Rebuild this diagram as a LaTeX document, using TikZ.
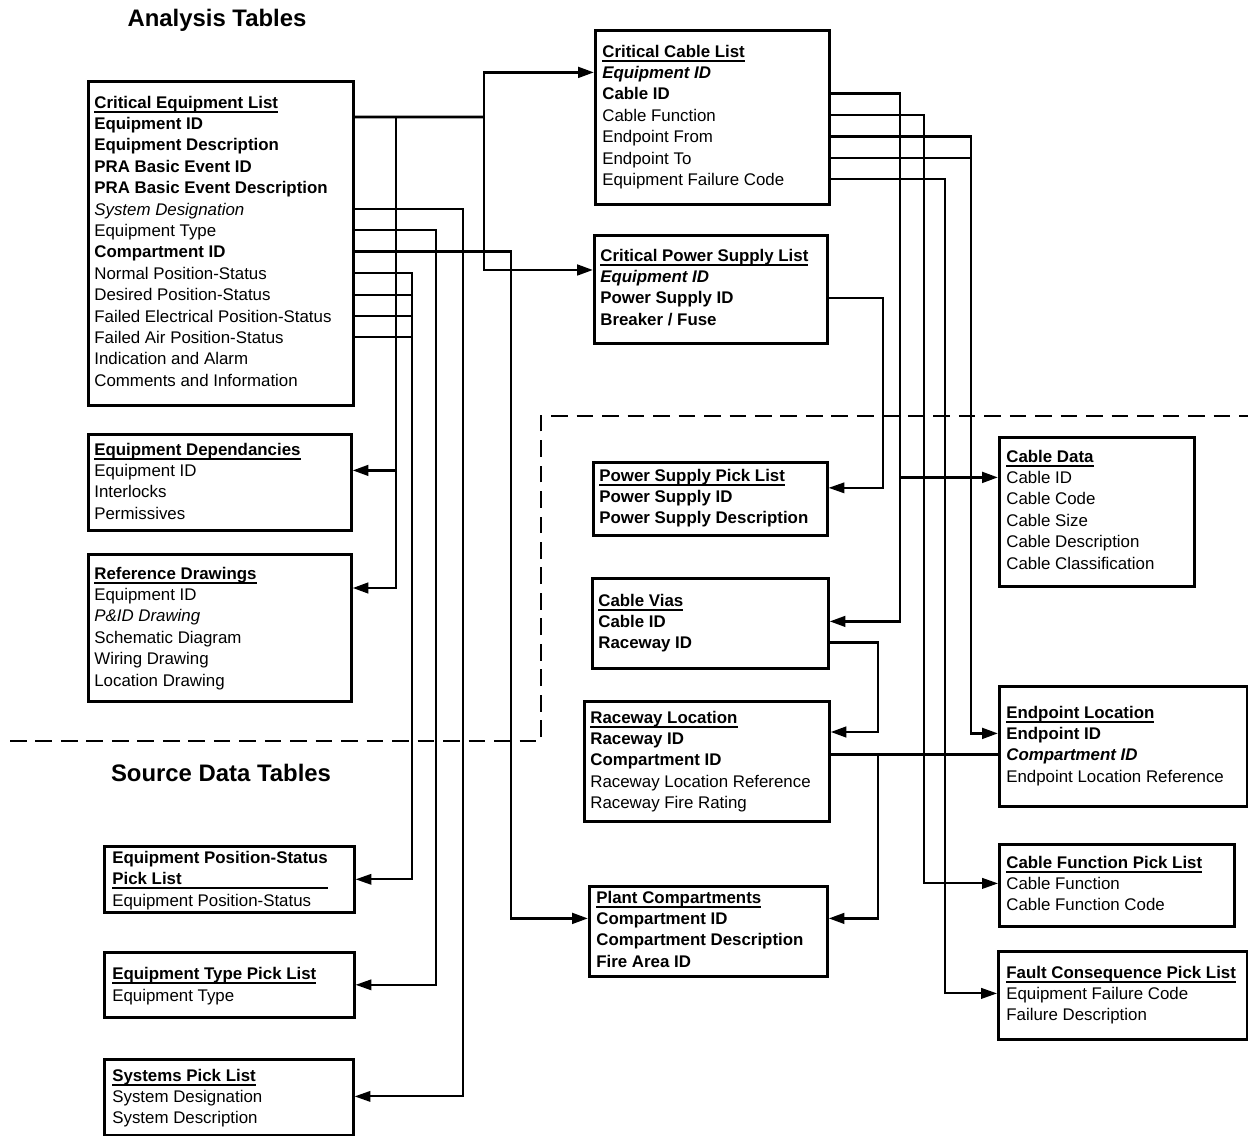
\documentclass[tikz,border=0pt]{standalone}
\usepackage{fontspec}
\setmainfont{Liberation Sans}
\usepackage{tikz}
\usetikzlibrary{arrows.meta, calc}

\newlength\pxu \setlength\pxu{0.02cm}
\newsavebox\ulbox
\newcommand\ul[1]{\sbox\ulbox{#1}\rlap{\rule[-2.7pt]{\wd\ulbox}{0.8pt}}\usebox\ulbox}
\newcommand\bld[1]{\textbf{#1}}
\newcommand\itl[1]{\textit{#1}}
\newcommand\bldit[1]{\textbf{\textit{#1}}}

\begin{document}
\begin{tikzpicture}[x=0.02cm, y=-0.02cm, >={Triangle[length=9pt,width=6pt]},
    font=\fontsize{9.6}{11.5}\selectfont,
    tbl/.style args={#1 by #2}{draw, line width=1.5pt, anchor=north west, inner sep=0pt,
        minimum width=#1\pxu, minimum height=#2\pxu},
    fld/.style={anchor=west, inner sep=0pt, text height=6.9pt, text depth=0pt},
    ttl/.style={fld, font=\fontsize{9.6}{11.5}\selectfont\bfseries},
    hdg/.style={font=\fontsize{13.6}{16}\selectfont\bfseries},
    thk/.style={line width=1.6pt},
    thn/.style={line width=1.1pt},
    divider/.style={line width=1.5pt, dash pattern=on 9.5pt off 5pt}]
    \useasboundingbox (0,0) rectangle (1248,1136);

    \node[hdg] (ana) at (217,20) {Analysis Tables};
    \node[hdg] (src) at (221,773) {Source Data Tables};
    \draw[divider] (10,741) -| (541,416) -- (1248,416);

    % analysis tables
    \node[tbl=265 by 324] (cel) at (87,80) {};
    \node[ttl] (cel0) at (94,102) {\ul{Critical Equipment List}};
    \foreach \txt [count=\i] in {\bld{Equipment ID}, \bld{Equipment Description},
        \bld{PRA Basic Event ID}, \bld{PRA Basic Event Description}, \itl{System Designation},
        Equipment Type, \bld{Compartment ID}, Normal Position-Status, Desired Position-Status,
        Failed Electrical Position-Status, Failed Air Position-Status, Indication and Alarm,
        Comments and Information}
        \node[fld] (cel\i) at (94,{102+21.4*\i}) {\txt};

    \node[tbl=234 by 174] (ccl) at (594,29) {};
    \node[ttl] (ccl0) at (602,51) {\ul{Critical Cable List}};
    \foreach \txt [count=\i] in {\bldit{Equipment ID}, \bld{Cable ID}, Cable Function,
        Endpoint From, Endpoint To, Equipment Failure Code}
        \node[fld] (ccl\i) at (602,{51+21.4*\i}) {\txt};

    \node[tbl=233 by 108] (cpsl) at (593,234) {};
    \node[ttl] (cpsl0) at (600,255) {\ul{Critical Power Supply List}};
    \foreach \txt [count=\i] in {\bldit{Equipment ID}, \bld{Power Supply ID}, \bld{Breaker / Fuse}}
        \node[fld] (cpsl\i) at (600,{255+21.4*\i}) {\txt};

    \node[tbl=263 by 96] (ed) at (87,433) {};
    \node[ttl] (ed0) at (94,449) {\ul{Equipment Dependancies}};
    \foreach \txt [count=\i] in {Equipment ID, Interlocks, Permissives}
        \node[fld] (ed\i) at (94,{449+21.4*\i}) {\txt};

    \node[tbl=263 by 147] (rd) at (87,553) {};
    \node[ttl] (rd0) at (94,573) {\ul{Reference Drawings}};
    \foreach \txt [count=\i] in {Equipment ID, \itl{P\&ID Drawing}, Schematic Diagram,
        Wiring Drawing, Location Drawing}
        \node[fld] (rd\i) at (94,{573+21.4*\i}) {\txt};

    % source data tables
    \node[tbl=234 by 73] (pspl) at (592,461) {};
    \node[ttl] (pspl0) at (599,475) {\ul{Power Supply Pick List}};
    \foreach \txt [count=\i] in {\bld{Power Supply ID}, \bld{Power Supply Description}}
        \node[fld] (pspl\i) at (599,{475+21.4*\i}) {\txt};

    \node[tbl=236 by 90] (cv) at (591,577) {};
    \node[ttl] (cv0) at (598,600) {\ul{Cable Vias}};
    \foreach \txt [count=\i] in {\bld{Cable ID}, \bld{Raceway ID}}
        \node[fld] (cv\i) at (598,{600+21.4*\i}) {\txt};

    \node[tbl=245 by 120] (rl) at (583,700) {};
    \node[ttl] (rl0) at (590,717) {\ul{Raceway Location}};
    \foreach \txt [count=\i] in {\bld{Raceway ID}, \bld{Compartment ID},
        Raceway Location Reference, Raceway Fire Rating}
        \node[fld] (rl\i) at (590,{717+21.4*\i}) {\txt};

    \node[tbl=238 by 90] (pc) at (588,885) {};
    \node[ttl] (pc0) at (596,897) {\ul{Plant Compartments}};
    \foreach \txt [count=\i] in {\bld{Compartment ID}, \bld{Compartment Description}, \bld{Fire Area ID}}
        \node[fld] (pc\i) at (596,{897+21.4*\i}) {\txt};

    \node[tbl=195 by 149] (cd) at (998,436) {};
    \node[ttl] (cd0) at (1006,456) {\ul{Cable Data}};
    \foreach \txt [count=\i] in {Cable ID, Cable Code, Cable Size, Cable Description,
        Cable Classification}
        \node[fld] (cd\i) at (1006,{456+21.4*\i}) {\txt};

    \node[tbl=248 by 120] (el) at (998,685) {};
    \node[ttl] (el0) at (1006,712) {\ul{Endpoint Location}};
    \foreach \txt [count=\i] in {\bld{Endpoint ID}, \bldit{Compartment ID}, Endpoint Location Reference}
        \node[fld] (el\i) at (1006,{712+21.4*\i}) {\txt};

    \node[tbl=235 by 82] (cfpl) at (998,843) {};
    \node[ttl] (cfpl0) at (1006,862) {\ul{Cable Function Pick List}};
    \foreach \txt [count=\i] in {Cable Function, Cable Function Code}
        \node[fld] (cfpl\i) at (1006,{862+21.4*\i}) {\txt};

    \node[tbl=249 by 88] (fcpl) at (997,950) {};
    \node[ttl] (fcpl0) at (1006,972) {\ul{Fault Consequence Pick List}};
    \foreach \txt [count=\i] in {Equipment Failure Code, Failure Description}
        \node[fld] (fcpl\i) at (1006,{972+21.4*\i}) {\txt};

    \node[tbl=250 by 66] (epspl) at (103,845) {};
    \node[ttl] (epspl0) at (112,857) {Equipment Position-Status};
    \node[ttl] (epspl00) at (112,878) {\ul{\rlap{Pick List}\phantom{Equipment Position-Status}}};
    \node[fld] (epspl1) at (112,900) {Equipment Position-Status};

    \node[tbl=250 by 65] (etpl) at (103,951) {};
    \node[ttl] (etpl0) at (112,973) {\ul{Equipment Type Pick List}};
    \node[fld] (etpl1) at (112,995) {Equipment Type};

    \node[tbl=249 by 76] (spl) at (103,1058) {};
    \node[ttl] (spl0) at (112,1075) {\ul{Systems Pick List}};
    \foreach \txt [count=\i] in {System Designation, System Description}
        \node[fld] (spl\i) at (112,{1075+21.4*\i}) {\txt};

    % buses
    \coordinate (eqbus) at (484,117);
    \coordinate (depbus) at (396,117);
    \coordinate (psbus) at (412,0);
    \coordinate (typbus) at (436,0);
    \coordinate (sysbus) at (463,0);
    \coordinate (cmpbus) at (511,0);
    \coordinate (supbus) at (883,0);
    \coordinate (cabbus) at (900,0);
    \coordinate (fnbus) at (924,0);
    \coordinate (fltbus) at (945,0);
    \coordinate (endbus) at (971,0);
    \coordinate (rwbus) at (878,0);
    \coordinate (psin) at ($(pspl0)!.6!(pspl1)$);

    % critical equipment list links
    \draw[thk] (cel.east |- cel1.north) -- (eqbus);
    \draw[thk, ->] (eqbus) |- (ccl.west |- ccl1);
    \draw[thk, ->] (eqbus) |- (cpsl.west |- cpsl1.north);
    \draw[thk, ->] (depbus) |- (ed.east |- ed1);
    \draw[thk, ->] (depbus) |- (rd.east |- rd1.north);
    \draw[thn, ->] (cel.east |- cel5) -| (sysbus |- spl1) -- (spl.east |- spl1);
    \draw[thn, ->] (cel.east |- cel6) -| (typbus |- etpl.east) -- (etpl.east);
    \draw[thk, ->] (cel.east |- cel7) -| (cmpbus |- pc1) -- (pc.west |- pc1);
    \foreach \i in {9,10,11}
        \draw[thn] (cel.east |- cel\i) -- (psbus |- cel\i);
    \draw[thn, ->] (cel.east |- cel8) -| (psbus |- epspl.east) -- (epspl.east);

    % cable and power supply links
    \draw[thk, ->] (ccl.east |- ccl2) -| (cabbus |- cv1) -- (cv.east |- cv1);
    \draw[thk, ->] (cabbus |- cd1) -- (cd.west |- cd1);
    \draw[thn, ->] (ccl.east |- ccl3) -| (fnbus |- cfpl1) -- (cfpl.west |- cfpl1);
    \draw[thk] (ccl.east |- ccl5) -- (endbus |- ccl5);
    \draw[thk, ->] (ccl.east |- ccl4) -| (endbus |- el1) -- (el.west |- el1);
    \draw[thn, ->] (ccl.east |- ccl6) -| (fltbus |- fcpl1) -- (fcpl.west |- fcpl1);
    \draw[thn, ->] (cpsl.east |- cpsl2) -| (supbus |- psin) -- (pspl.east |- psin);

    % raceway links
    \draw[thk, ->] (cv.east |- cv2) -| (rwbus |- rl1.north) -- (rl.east |- rl1.north);
    \draw[thk] (rl.east |- el2) -- (el.west |- el2);
    \draw[thk, ->] (rwbus |- el2) |- (pc.east |- pc1);
\end{tikzpicture}
\end{document}
